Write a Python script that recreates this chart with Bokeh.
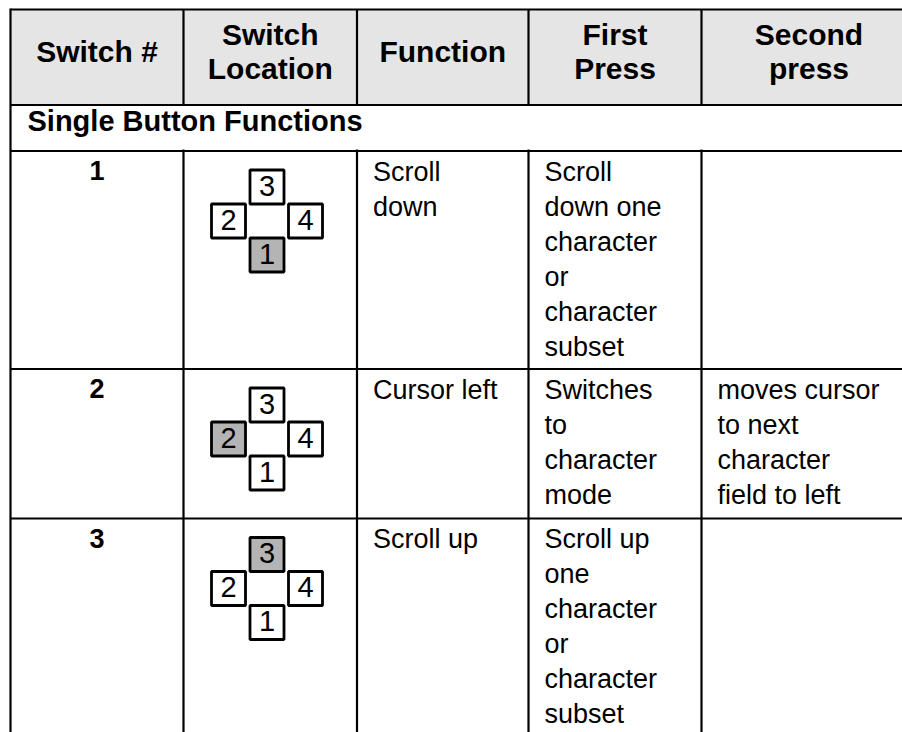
from bokeh.plotting import figure
from bokeh.models import Range1d, ColumnDataSource
from bokeh.embed import file_html
from bokeh.resources import INLINE
from bokeh.core.properties import value

# ---------------- data ----------------
header_labels = ["Switch #", "Switch\nLocation", "Function", "First\nPress", "Second\npress"]
section_title = "Single Button Functions"
switch_ids = ["1", "2", "3"]
functions = ["Scroll\ndown", "Cursor left", "Scroll up"]
first_press = [
    "Scroll\ndown one\ncharacter\nor\ncharacter\nsubset",
    "Switches\nto\ncharacter\nmode",
    "Scroll up\none\ncharacter\nor\ncharacter\nsubset",
]
second_press = ["", "moves cursor\nto next\ncharacter\nfield to left", ""]
pad_keys = ["3", "2", "4", "1"]          # keys of the 4-way switch pad
pad_col = [0, -1, 1, 0]                  # pad grid column of each key
pad_row = [0, 1, 1, 2]                   # pad grid row of each key
pressed_key = ["1", "2", "3"]            # highlighted key for each table row

# ---------------- layout ----------------
W, H = 902, 732
col_x = [10, 183, 356.5, 528, 701, 916]
row_y = [9, 104.5, 150.5, 368.5, 518, 760]
FONT = "Liberation Sans"
HEAD_FILL = "#e5e5e5"
KEY_FILL = "#b4b4b4"
LW = 2.2
BASE_FIX = 0.38   # correction of the rendered baseline, in font sizes

p = figure(width=W, height=H, output_backend="svg", toolbar_location=None,
           x_range=Range1d(0, W), y_range=Range1d(H, 0),
           min_border=0, outline_line_color=None, tools="")
p.axis.visible = False
p.xgrid.visible = False
p.ygrid.visible = False
p.background_fill_color = "white"
p.border_fill_color = "white"

# header background
p.quad(left=[col_x[0]], right=[W + 10], top=[row_y[0]], bottom=[row_y[1]],
       fill_color=HEAD_FILL, line_color=None)

# grid lines
x0s, y0s, x1s, y1s = [], [], [], []
for y in row_y[:5]:
    x0s.append(col_x[0]); x1s.append(W + 10); y0s.append(y); y1s.append(y)
x0s.append(col_x[0]); x1s.append(col_x[0]); y0s.append(row_y[0] - 1); y1s.append(H + 10)
for x in col_x[1:5]:
    x0s += [x, x]; x1s += [x, x]
    y0s += [row_y[0], row_y[2] - 1.5]; y1s += [row_y[1], H + 10]
p.segment(x0=x0s, y0=y0s, x1=x1s, y1=y1s, line_color="black", line_width=LW)

# ---------------- texts ----------------
def add_lines(xs, ys, texts, size, style, align, step):
    lx, ly, lt = [], [], []
    for x, y, t in zip(xs, ys, texts):
        for i, line in enumerate(t.split("\n")):
            if line:
                lx.append(x); ly.append(y + i * step - BASE_FIX * size); lt.append(line)
    src = ColumnDataSource(dict(x=lx, y=ly, t=lt))
    p.text(x="x", y="y", text="t", source=src, text_font=value(FONT),
           text_font_size=f"{size}px", text_font_style=style, text_align=align,
           text_baseline="alphabetic", text_color="black")

# header
hx, hy = [], []
for j, lab in enumerate(header_labels):
    n = len(lab.split("\n"))
    hx.append((col_x[j] + col_x[j + 1]) / 2)
    hy.append(62 - (n - 1) * 17)
add_lines(hx, hy, header_labels, 30, "bold", "center", 34)

# section title
add_lines([27], [132], [section_title], 29, "bold", "left", 34)

# rows
tops = row_y[2:5]
add_lines([(col_x[0] + col_x[1]) / 2] * 3, [t + 30 for t in tops], switch_ids,
          27, "bold", "center", 35)
PAD = 16
add_lines([col_x[2] + PAD] * 3, [t + 31 for t in tops], functions, 27, "normal", "left", 35)
add_lines([col_x[3] + PAD] * 3, [t + 31 for t in tops], first_press, 27, "normal", "left", 35)
add_lines([col_x[4] + PAD] * 3, [t + 31 for t in tops], second_press, 27, "normal", "left", 35)

# switch pads
KEY = 34
KEY_FONT = 29
cx_pad = 266.5
kx, ky, kf, kt = [], [], [], []
for top, pk in zip(tops, pressed_key):
    for key, c, r in zip(pad_keys, pad_col, pad_row):
        kx.append(cx_pad + c * 38.5)
        ky.append(top + 36 + r * 34)
        kf.append(KEY_FILL if key == pk else "white")
        kt.append(key)
ksrc = ColumnDataSource(dict(x=kx, y=ky, f=kf, t=kt,
                             ty=[v + 10 - BASE_FIX * KEY_FONT for v in ky]))
p.rect(x="x", y="y", width=KEY, height=KEY, source=ksrc, fill_color="f",
       line_color="black", line_width=2.8)
p.text(x="x", y="ty", text="t", source=ksrc, text_font=value(FONT),
       text_font_size=f"{KEY_FONT}px",
       text_align="center", text_baseline="alphabetic", text_color="black")

open("out.html", "w").write(file_html(p, INLINE))
